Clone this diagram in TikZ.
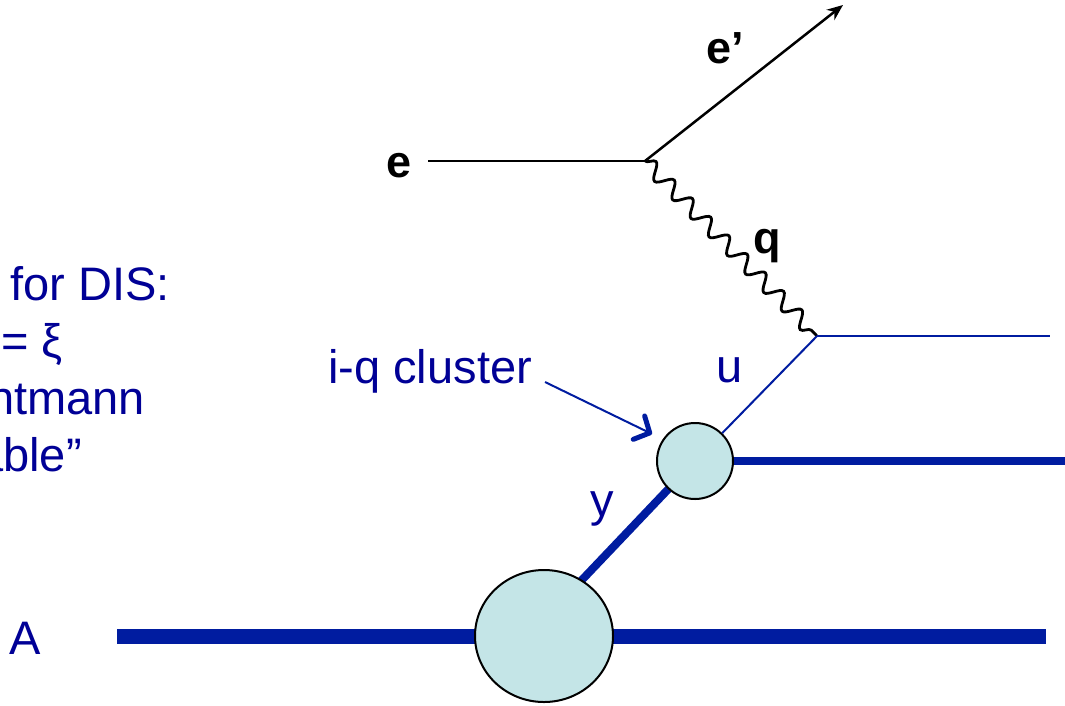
\documentclass[tikz,border=0pt]{standalone}
\usepackage{fontspec}
\setmainfont{Liberation Sans}
\usetikzlibrary{arrows.meta,decorations.pathmorphing,shapes.geometric}
\definecolor{txtblue}{RGB}{0,0,150}
\definecolor{lineblue}{RGB}{0,28,160}
\definecolor{blobfill}{RGB}{196,229,231}
\pgfdeclarelayer{bg}
\pgfsetlayers{bg,main}
\begin{document}
\begin{tikzpicture}[x=1pt,y=-1pt,
  bluetext/.style={font=\fontsize{47}{56}\selectfont, text=txtblue, inner sep=0pt},
  elabel/.style={font=\fontsize{45}{50}\selectfont\bfseries, text=black, inner sep=0pt},
  blob/.style={draw=black, line width=2pt, fill=blobfill, inner sep=0pt},
  lepton/.style={draw=black, line width=2.5pt},
  photon/.style={draw=black, line width=2.8pt,
    decorate, decoration={snake, segment length=26pt, amplitude=7.5pt}},
  thinquark/.style={draw=lineblue, line width=2pt},
  thickline/.style={draw=lineblue, line width=8pt},
  nucleus/.style={draw=lineblue, line width=15pt},
  callout/.style={draw=lineblue, line width=2pt,
    -{Straight Barb[length=12pt, width=26pt, line width=5pt, round]}}
]
\useasboundingbox (0,0) rectangle (1065,705);
\clip (0,0) rectangle (1065,705);

% vertices and free line ends
\coordinate (ein)   at (428,161);
\coordinate (v1)    at (645,161);
\coordinate (eout)  at (843,5);
\coordinate (v2)    at (817,336);
\coordinate (qout)  at (1050,336);
\coordinate (rem)   at (1065,461);
\coordinate (Ain)   at (117,636.5);
\coordinate (Aout)  at (1046,636.5);
\coordinate (yend)  at (560,603);
\coordinate (cstart) at (545,382);
\coordinate (ctip)  at (652,434);

% blobs
\node[blob, circle, minimum size=76pt] (iq) at (695,461) {};
\node[blob, ellipse, minimum width=138pt, minimum height=132pt] (nuc) at (544,636) {};

% lines behind the blobs
\begin{pgfonlayer}{bg}
  \draw[nucleus] (Ain) -- (Aout);
  \draw[thickline] (iq.center) -- (yend);
  \draw[thickline] (iq.center) -- (rem);
\end{pgfonlayer}

% electron vertex
\draw[lepton] (ein) -- (v1);
\draw[lepton, -{Stealth[length=16pt, width=13pt]}] (v1) -- (eout);
\draw[photon] (v1) -- (v2);

% struck quark
\draw[thinquark] (v2) -- (qout);
\draw[thinquark] (v2) -- (iq);

% callout arrow
\draw[callout] (cstart) -- (ctip);

% labels
\node[elabel, anchor=base west] (le)  at (386,177) {e};
\node[elabel, anchor=base west] (lep) at (706,63) {e’};
\node[elabel, anchor=base west] (lq)  at (753,253) {q};
\node[bluetext, anchor=base] (lu) at (730,382) {u};
\node[bluetext, anchor=base] (ly) at (602,516) {y};
\node[bluetext, anchor=base west] (lA) at (9,654) {A};
\node[bluetext, anchor=base west] (liq) at (328,383) {i-q cluster};

% side note
\node[bluetext, anchor=base east] (n1) at (170,300) {for DIS:};
\node[bluetext, anchor=base east] (n2) at (63,357) {= ξ};
\node[bluetext, anchor=base east] (n3) at (145,414) {Nachtmann};
\node[bluetext, anchor=base east] (n4) at (82,471) {variable”};
\end{tikzpicture}
\end{document}
